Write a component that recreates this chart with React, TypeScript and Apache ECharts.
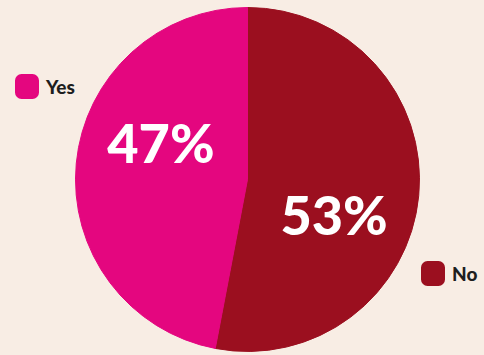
import React, { useEffect, useRef } from "react";
import * as echarts from "echarts";

const categories = ["No", "Yes"];
const values = [53, 47];
const colors = ["#9b0f1f", "#e4067f"];
const labelOffsets = [[-2, 27], [2, -29]];

export default function App() {
  const ref = useRef<HTMLDivElement>(null);
  useEffect(() => {
    document.body.style.margin = "0";
    const chart = echarts.init(ref.current!, undefined, { renderer: "svg" });
    const legendText = {
      color: "#1e1e1e",
      fontSize: 19,
      fontWeight: 900,
      fontFamily: "Lato",
      padding: [0, 0, 0, 3],
    };
    const legendBase = {
      icon: "roundRect",
      itemWidth: 22,
      itemHeight: 23,
      padding: 0,
      textStyle: legendText,
      selectedMode: false,
    };
    chart.setOption({
      animation: false,
      backgroundColor: "#f8ede4",
      legend: [
        { ...legendBase, data: ["Yes"], left: 15, top: 74 },
        { ...legendBase, data: ["No"], left: 421, top: 261 },
      ],
      series: [
        {
          type: "pie",
          center: [247.5, 179.5],
          radius: 172,
          startAngle: 90,
          clockwise: true,
          label: {
            show: true,
            position: "inside",
            formatter: "{c}%",
            color: "#ffffff",
            fontSize: 54,
            fontWeight: 900,
            fontFamily: "Lato",
          },
          labelLine: { show: false },
          emphasis: { disabled: true },
          data: categories.map((name, i) => ({
            name,
            value: values[i],
            itemStyle: { color: colors[i], borderColor: colors[i], borderWidth: 1 },
            label: { offset: labelOffsets[i] },
          })),
        },
      ],
    });
    return () => chart.dispose();
  }, []);
  return <div ref={ref} style={{ width: 484, height: 355 }} />;
}
